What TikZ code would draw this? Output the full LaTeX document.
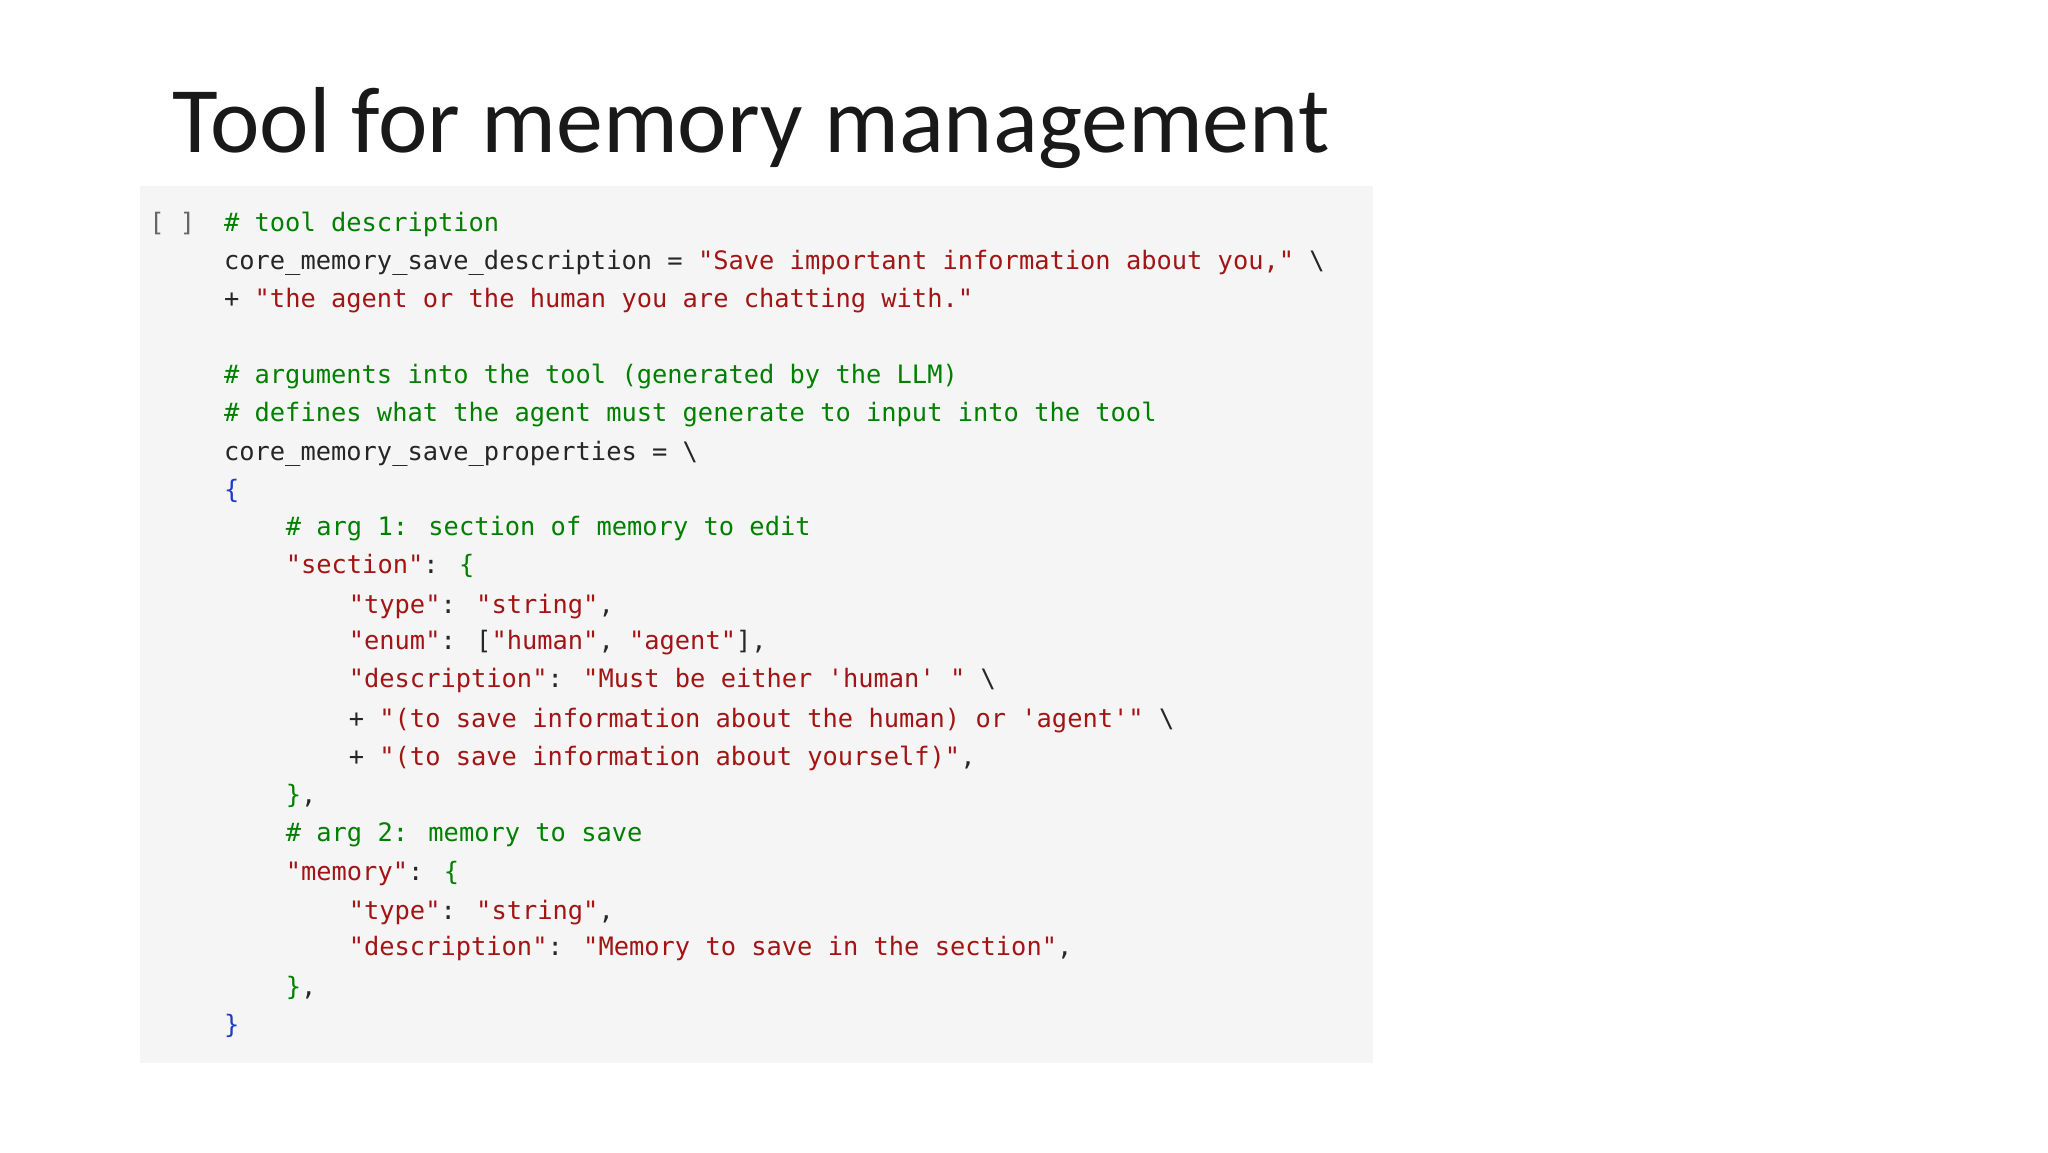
\documentclass[tikz,border=0pt]{standalone}
\usepackage{fontspec}
\setmainfont{Carlito}
\newfontfamily\codefont{DejaVu Sans Mono}
\definecolor{cgreen}{RGB}{0,128,0}
\definecolor{cred}{RGB}{163,21,21}
\definecolor{cblue}{RGB}{30,60,200}
\definecolor{cbg}{RGB}{245,245,245}
\newcommand{\Cm}[1]{\textcolor{cgreen}{#1}}
\newcommand{\St}[1]{\textcolor{cred}{#1}}
\newcommand{\Bl}[1]{\textcolor{cblue}{#1}}
\newcommand{\Gb}[1]{\textcolor{cgreen}{#1}}
\begin{document}
\begin{tikzpicture}[x=0.01cm,y=-0.01cm,
  code/.style={anchor=base west,inner sep=0pt,font=\codefont\fontsize{5.5pt}{7pt}\selectfont,text=black!85}]
\useasboundingbox (0,0) rectangle (1560,877.5);
\fill[cbg] (107,142) rectangle (1046,810);
\node[anchor=base west,inner sep=0pt,text=black!90,font=\fontsize{20.3pt}{25pt}\selectfont] (title) at (131,116) {Tool for memory management};
\node[code,text=black!60] (br) at (113,176) {[ ]};
\node[code] (l1) at (170,176) {\Cm{\# tool description}};
\node[code] (l2) at (170,205) {core\_memory\_save\_description = \St{"Save important information about you,"} \textbackslash};
\node[code] (l3) at (170,234) {+ \St{"the agent or the human you are chatting with."}};
\node[code] (l4) at (170,292) {\Cm{\# arguments into the tool (generated by the LLM)}};
\node[code] (l5) at (170,321) {\Cm{\# defines what the agent must generate to input into the tool}};
\node[code] (l6) at (170,351) {core\_memory\_save\_properties = \textbackslash};
\node[code] (l7) at (170,380) {\Bl{\{}};
\node[code] (l8) at (217,408) {\Cm{\# arg 1: section of memory to edit}};
\node[code] (l9) at (217,437) {\St{"section"}: \Gb{\{}};
\node[code] (l10) at (265,467) {\St{"type"}: \St{"string"},};
\node[code] (l11) at (265,495) {\St{"enum"}: [\St{"human"}, \St{"agent"}],};
\node[code] (l12) at (265,524) {\St{"description"}: \St{"Must be either 'human' "} \textbackslash};
\node[code] (l13) at (265,554) {+ \St{"(to save information about the human) or 'agent'"} \textbackslash};
\node[code] (l14) at (265,583) {+ \St{"(to save information about yourself)"},};
\node[code] (l15) at (217,612) {\Gb{\}},};
\node[code] (l16) at (217,641) {\Cm{\# arg 2: memory to save}};
\node[code] (l17) at (217,671) {\St{"memory"}: \Gb{\{}};
\node[code] (l18) at (265,700) {\St{"type"}: \St{"string"},};
\node[code] (l19) at (265,728) {\St{"description"}: \St{"Memory to save in the section"},};
\node[code] (l20) at (217,758) {\Gb{\}},};
\node[code] (l21) at (170,787) {\Bl{\}}};
\end{tikzpicture}
\end{document}
